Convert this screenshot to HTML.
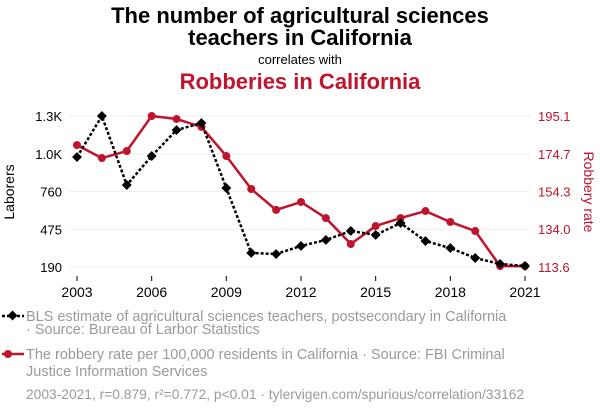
<!DOCTYPE html>
<html><head><meta charset="utf-8"><style>
body{margin:0;background:#fff;width:600px;height:414px;overflow:hidden;font-family:"Liberation Sans",sans-serif}
</style></head><body>
<svg width="600" height="414" id="c" xmlns="http://www.w3.org/2000/svg" font-family="Liberation Sans, sans-serif">
<text x="300" y="23" text-anchor="middle" font-size="22" font-weight="bold" fill="#000">The number of agricultural sciences</text>
<text x="300" y="45" text-anchor="middle" font-size="22" font-weight="bold" fill="#000">teachers in California</text>
<text x="300" y="64" text-anchor="middle" font-size="13" fill="#000">correlates with</text>
<text x="300" y="89" text-anchor="middle" font-size="22" font-weight="bold" fill="#c0142c">Robberies in California</text>
<text transform="translate(14,192) rotate(-90)" text-anchor="middle" font-size="14" fill="#000">Laborers</text>
<text transform="translate(584,192) rotate(90)" text-anchor="middle" font-size="14" fill="#c0142c">Robbery rate</text>
<g id="grid"></g><g id="ticks"></g><g id="series"></g>
<g font-size="14.5" fill="#9a9a9a">
<line x1="2" y1="316" x2="24" y2="316" stroke="#000" stroke-width="2.5" stroke-dasharray="3,2"/>
<rect x="9" y="312" width="7" height="7" transform="rotate(45 12.5 315.5)" fill="#000"/>
<text x="26" y="321">BLS estimate of agricultural sciences teachers, postsecondary in California</text>
<text x="26" y="334">· Source: Bureau of Larbor Statistics</text>
<line x1="2" y1="354" x2="24" y2="354" stroke="#c0142c" stroke-width="2.5"/>
<circle cx="8" cy="354" r="4" fill="#c0142c"/>
<text x="26" y="359">The robbery rate per 100,000 residents in California · Source: FBI Criminal</text>
<text x="26" y="376">Justice Information Services</text>
<text x="26" y="399" font-size="13.8">2003-2021, r=0.879, r²=0.772, p&lt;0.01 · tylervigen.com/spurious/correlation/33162</text>
</g>
</svg>
<script>
const years=[2003,2004,2005,2006,2007,2008,2009,2010,2011,2012,2013,2014,2015,2016,2017,2018,2019,2020,2021];
const teachers=[1020,1330,809,1028,1224,1277,786,296,288,349,394,462,432,522,386,333,258,213,198];
const robbery=[179.4,172.4,176.2,195.1,193.5,189.2,173.5,155.7,144.4,148.7,140.0,126.0,135.7,140.0,143.8,137.9,133.0,114.1,114.1];
const leftTicks=[190,475,760,1045,1330];
const leftLabels=["190","475","760","1.0K","1.3K"];
const rightTicks=[113.6,134.0,154.3,174.7,195.1];
const xTicks=[2003,2006,2009,2012,2015,2018,2021];
const NS="http://www.w3.org/2000/svg";
const X=y=>77+(y-2003)*(525-77)/18;
const YL=v=>267-(v-190)*(267-116)/(1330-190);
const YR=v=>267-(v-113.6)*(267-116)/(195.1-113.6);
function mk(t,a,p){const e=document.createElementNS(NS,t);for(const k in a)e.setAttribute(k,a[k]);p.appendChild(e);return e;}
const g=document.getElementById('grid'),tk=document.getElementById('ticks'),s=document.getElementById('series');
leftTicks.forEach((v,i)=>{
 const l=mk('line',{x1:70,x2:530,y1:YL(v),y2:YL(v),stroke:'#eee'},g);
 
 
 const t=mk('text',{x:62,y:YL(v)+5,'text-anchor':'end','font-size':13,fill:'#000'},tk);t.textContent=leftLabels[i];
 
 
});
rightTicks.forEach(v=>{
 const t=mk('text',{x:538,y:YR(v)+5,'font-size':13,fill:'#c0142c'},tk);t.textContent=v.toFixed(1);
 
 
});
xTicks.forEach(y=>{
 const t=mk('text',{x:X(y),y:297,'text-anchor':'middle','font-size':14,fill:'#000'},tk);t.textContent=y;
 
 
 mk('line',{x1:X(y),x2:X(y),y1:276,y2:281,stroke:'#000'},tk);
});
const rl=mk('polyline',{points:years.map((y,i)=>X(y)+','+YR(robbery[i])).join(' '),fill:'none',stroke:'#c0142c','stroke-width':2.5},s);


years.forEach((y,i)=>{const c=mk('circle',{cx:X(y),cy:YR(robbery[i]),r:4,fill:'#c0142c'},s);
 
 });
const tl=mk('polyline',{points:years.map((y,i)=>X(y)+','+YL(teachers[i])).join(' '),fill:'none',stroke:'#000','stroke-width':2.5,'stroke-dasharray':'3,2'},s);


years.forEach((y,i)=>{const x=X(y),yy=YL(teachers[i]);const r=mk('rect',{x:x-3.5,y:yy-3.5,width:7,height:7,fill:'#000',transform:`rotate(45 ${x} ${yy})`},s);
 
 });
</script>
</body></html>
